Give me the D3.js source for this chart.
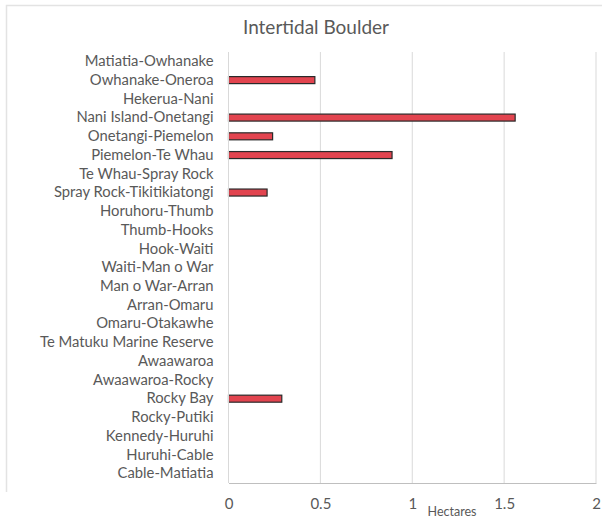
<!DOCTYPE html>
<html><head><meta charset="utf-8">
<script src="https://cdn.jsdelivr.net/npm/d3@7"></script>
<style>body{margin:0;background:#fff;}svg{display:block;}</style>
</head><body>
<svg id="chart" width="602" height="519"></svg>
<script>
const categories = ["Matiatia-Owhanake","Owhanake-Oneroa","Hekerua-Nani","Nani Island-Onetangi","Onetangi-Piemelon","Piemelon-Te Whau","Te Whau-Spray Rock","Spray Rock-Tikitikiatongi","Horuhoru-Thumb","Thumb-Hooks","Hook-Waiti","Waiti-Man o War","Man o War-Arran","Arran-Omaru","Omaru-Otakawhe","Te Matuku Marine Reserve","Awaawaroa","Awaawaroa-Rocky","Rocky Bay","Rocky-Putiki","Kennedy-Huruhi","Huruhi-Cable","Cable-Matiatia"];
const values = [0,0.47,0,1.56,0.24,0.89,0,0.21,0,0,0,0,0,0,0,0,0,0,0.29,0,0,0,0];
const xTicks = [0,0.5,1,1.5,2];
const xTickLabels = ["0","0.5","1","1.5","2"];

const svg = d3.select("#chart");
const font = "Lato, 'Open Sans', sans-serif";
const gray = "#595959";

// faint chart border
svg.append("path").attr("d","M6.5,492 L6.5,5.5 L602,5.5").attr("fill","none").attr("stroke","#e3e3e3").attr("stroke-width",1.5);

const x = d3.scaleLinear().domain([0,2]).range([228.5,596]);
const y = d3.scaleBand().domain(categories).range([52,483]).paddingInner(0.62).paddingOuter(0.31);

// gridlines
svg.append("g").selectAll("line").data(xTicks.slice(1)).join("line")
  .attr("x1",d=>x(d)).attr("x2",d=>x(d)).attr("y1",52).attr("y2",483)
  .attr("stroke","#d9d9d9").attr("stroke-width",1);

// bars
svg.append("g").selectAll("rect").data(categories.map((c,i)=>({c,v:values[i]})).filter(d=>d.v>0)).join("rect")
  .attr("x",x(0)).attr("y",d=>y(d.c)+y.bandwidth()/2-3.5)
  .attr("width",d=>x(d.v)-x(0)).attr("height",7)
  .attr("fill","#e2444f").attr("stroke","#2a2a2a").attr("stroke-width",1.2);

// y axis line
svg.append("line").attr("x1",x(0)).attr("x2",x(0)).attr("y1",52).attr("y2",483).attr("stroke","#d9d9d9");
// x axis
const xAxis = d3.axisBottom(x).tickValues(xTicks).tickFormat((d,i)=>xTickLabels[i]).tickSize(0).tickPadding(15);
const gx = svg.append("g").attr("transform","translate(0,483)").call(xAxis);
gx.select(".domain").attr("stroke","#bfbfbf").attr("stroke-width",1.2);
gx.selectAll("text").attr("font-family",font).attr("font-size",15).attr("fill",gray);

// y labels
const yAxis = d3.axisLeft(y).tickSize(0).tickPadding(15);
const gy = svg.append("g").attr("transform",`translate(${x(0)},0)`).call(yAxis);
gy.select(".domain").remove();
gy.selectAll("text").attr("font-family",font).attr("font-size",14.8).attr("fill",gray);

// title
svg.append("text").attr("x",316).attr("y",34).attr("text-anchor","middle")
  .attr("font-family",font).attr("font-size",19).attr("fill",gray).text("Intertidal Boulder");
// axis title
svg.append("text").attr("x",452).attr("y",516).attr("text-anchor","middle")
  .attr("font-family",font).attr("font-size",12.5).attr("fill",gray).text("Hectares");
</script>
</body></html>
